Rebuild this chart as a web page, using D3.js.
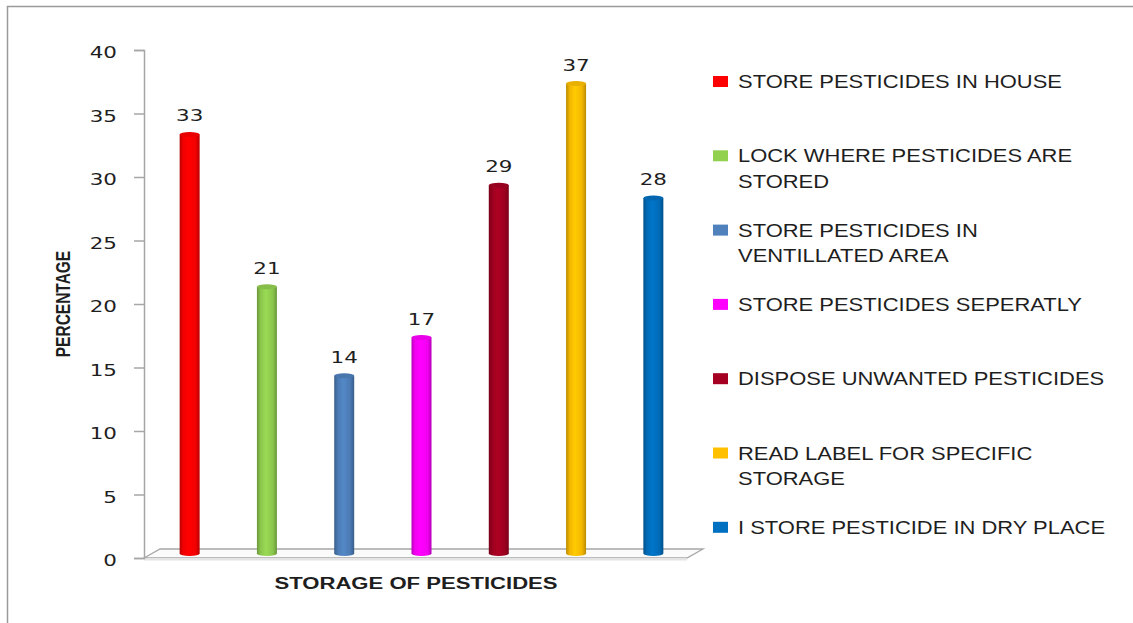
<!DOCTYPE html>
<html>
<head>
<meta charset="utf-8">
<script src="https://cdn.jsdelivr.net/npm/d3@7"></script>
<style>
  html, body { margin: 0; padding: 0; background: #fff; }
  svg { display: block; }
</style>
</head>
<body>
<svg id="chart" width="1133" height="623"></svg>
<script>
// ---- data ----
const categories = [
  "STORE PESTICIDES IN HOUSE",
  "LOCK WHERE PESTICIDES ARE STORED",
  "STORE PESTICIDES IN VENTILLATED AREA",
  "STORE PESTICIDES SEPERATLY",
  "DISPOSE UNWANTED PESTICIDES",
  "READ LABEL FOR SPECIFIC STORAGE",
  "I STORE PESTICIDE IN DRY PLACE"
];
const legendLines = [
  ["STORE PESTICIDES IN HOUSE"],
  ["LOCK WHERE PESTICIDES ARE", "STORED"],
  ["STORE PESTICIDES IN", "VENTILLATED AREA"],
  ["STORE PESTICIDES SEPERATLY"],
  ["DISPOSE UNWANTED PESTICIDES"],
  ["READ LABEL FOR SPECIFIC", "STORAGE"],
  ["I STORE PESTICIDE IN DRY PLACE"]
];
const values = [33, 21, 14, 17, 29, 37, 28];
const colors = ["#FF0000", "#92D050", "#4F81BD", "#FF00FF", "#A50021", "#FFC000", "#0070C0"];
const yTicks = [0, 5, 10, 15, 20, 25, 30, 35, 40];
const xTitle = "STORAGE OF PESTICIDES";
const yTitle = "PERCENTAGE";

// ---- layout ----
const svg = d3.select("#chart");
const axisX = 144, y0 = 558, yTop = 50;
const depth = 4.5;      // 3D floor depth offset for bars
const floorDx = 16, floorDy = 9;
const textCol = "#1e1e1e";
const gridCol = "#a6a6a6";

const x = d3.scaleBand().domain(categories).range([151, 692]).paddingInner(0).paddingOuter(0);
const y = d3.scaleLinear().domain([0, 40]).range([y0, yTop]);
const barW = 20;

// outer border (left + top visible)
svg.append("path")
  .attr("d", `M7.5,623 L7.5,6.5 L1133,6.5`)
  .attr("fill", "none").attr("stroke", "#9a9a9a").attr("stroke-width", 1.5);

// floor
const fx0 = axisX, fx1 = x.range()[1] - 5;
svg.append("path")
  .attr("d", `M${fx0},${y0} L${fx0 + floorDx},${y0 - floorDy} L${fx1 + floorDx},${y0 - floorDy} L${fx1},${y0} Z`)
  .attr("fill", "#fbfbfb").attr("stroke", gridCol).attr("stroke-width", 1.3);
svg.append("path")
  .attr("d", `M${fx0},${y0} L${fx1},${y0} L${fx1},${y0 + 2.5} L${fx0},${y0 + 2.5} Z`)
  .attr("fill", "#e4e4e4").attr("stroke", "none");

// y axis
const yAxis = d3.axisLeft(y).tickValues(yTicks).tickSize(10).tickPadding(0);
const gy = svg.append("g").attr("transform", `translate(${axisX},0)`).call(yAxis);
gy.select(".domain").attr("stroke", gridCol).attr("stroke-width", 1.5);
gy.selectAll(".tick line").attr("stroke", gridCol).attr("stroke-width", 1.5);
gy.selectAll(".tick text")
  .attr("x", 0).attr("dy", null).attr("y", 0)
  .attr("transform", "translate(-27,7.5) scale(1.3,1)")
  .attr("text-anchor", "end")
  .attr("font-family", "DejaVu Sans")
  .attr("font-size", 16.5)
  .attr("fill", textCol);

// gradients for cylinders
const defs = svg.append("defs");
colors.forEach((c, i) => {
  const base = d3.color(c);
  const g = defs.append("linearGradient").attr("id", "cyl" + i)
    .attr("x1", "0%").attr("x2", "100%").attr("y1", "0%").attr("y2", "0%");
  g.append("stop").attr("offset", "0%").attr("stop-color", base.darker(0.9));
  g.append("stop").attr("offset", "18%").attr("stop-color", base.darker(0.15));
  g.append("stop").attr("offset", "45%").attr("stop-color", base.brighter(0.15));
  g.append("stop").attr("offset", "80%").attr("stop-color", base.darker(0.15));
  g.append("stop").attr("offset", "100%").attr("stop-color", base.darker(0.9));
});

// bars (cylinders)
const bars = svg.append("g");
categories.forEach((cat, i) => {
  const cx = x(cat) + x.bandwidth() / 2;
  const top = y(values[i]) - depth;
  const bot = y0 - depth;
  const rx = barW / 2, ry = 2.5;
  bars.append("path")
    .attr("d", `M${cx - rx},${top} L${cx - rx},${bot} A${rx},${ry} 0 0 0 ${cx + rx},${bot} L${cx + rx},${top} Z`)
    .attr("fill", `url(#cyl${i})`);
  bars.append("ellipse")
    .attr("cx", cx).attr("cy", top).attr("rx", rx).attr("ry", ry)
    .attr("fill", d3.color(colors[i]).darker(0.25));
  // value label
  svg.append("text")
    .attr("transform", `translate(${cx},${top - 13}) scale(1.3,1)`)
    .attr("text-anchor", "middle")
    .attr("font-family", "DejaVu Sans")
    .attr("font-size", 16.5)
    .attr("fill", textCol)
    .text(values[i]);
});

// axis titles
svg.append("text")
  .attr("transform", `translate(416,589) scale(1.3,1)`)
  .attr("text-anchor", "middle")
  .attr("font-family", "Liberation Sans, Arial, sans-serif")
  .attr("font-weight", "bold")
  .attr("font-size", 17)
  .attr("fill", textCol)
  .text(xTitle);

svg.append("text")
  .attr("transform", `translate(70,304) rotate(-90) scale(1,1.25)`)
  .attr("text-anchor", "middle")
  .attr("font-family", "Liberation Sans, Arial, sans-serif")
  .attr("font-weight", "bold")
  .attr("font-size", 15.5)
  .attr("fill", textCol)
  .text(yTitle);

// legend
const leg = svg.append("g");
legendLines.forEach((lines, i) => {
  const by = 88 + i * 74.3;
  leg.append("rect")
    .attr("x", 713).attr("y", by - 12).attr("width", 15).attr("height", 11)
    .attr("fill", colors[i]);
  lines.forEach((ln, j) => {
    leg.append("text")
      .attr("transform", `translate(738,${by + j * 25.5}) scale(1.22,1)`)
      .attr("font-family", "Liberation Sans, Arial, sans-serif")
      .attr("font-size", 18)
      .attr("fill", textCol)
      .text(ln);
  });
});
</script>
</body>
</html>
